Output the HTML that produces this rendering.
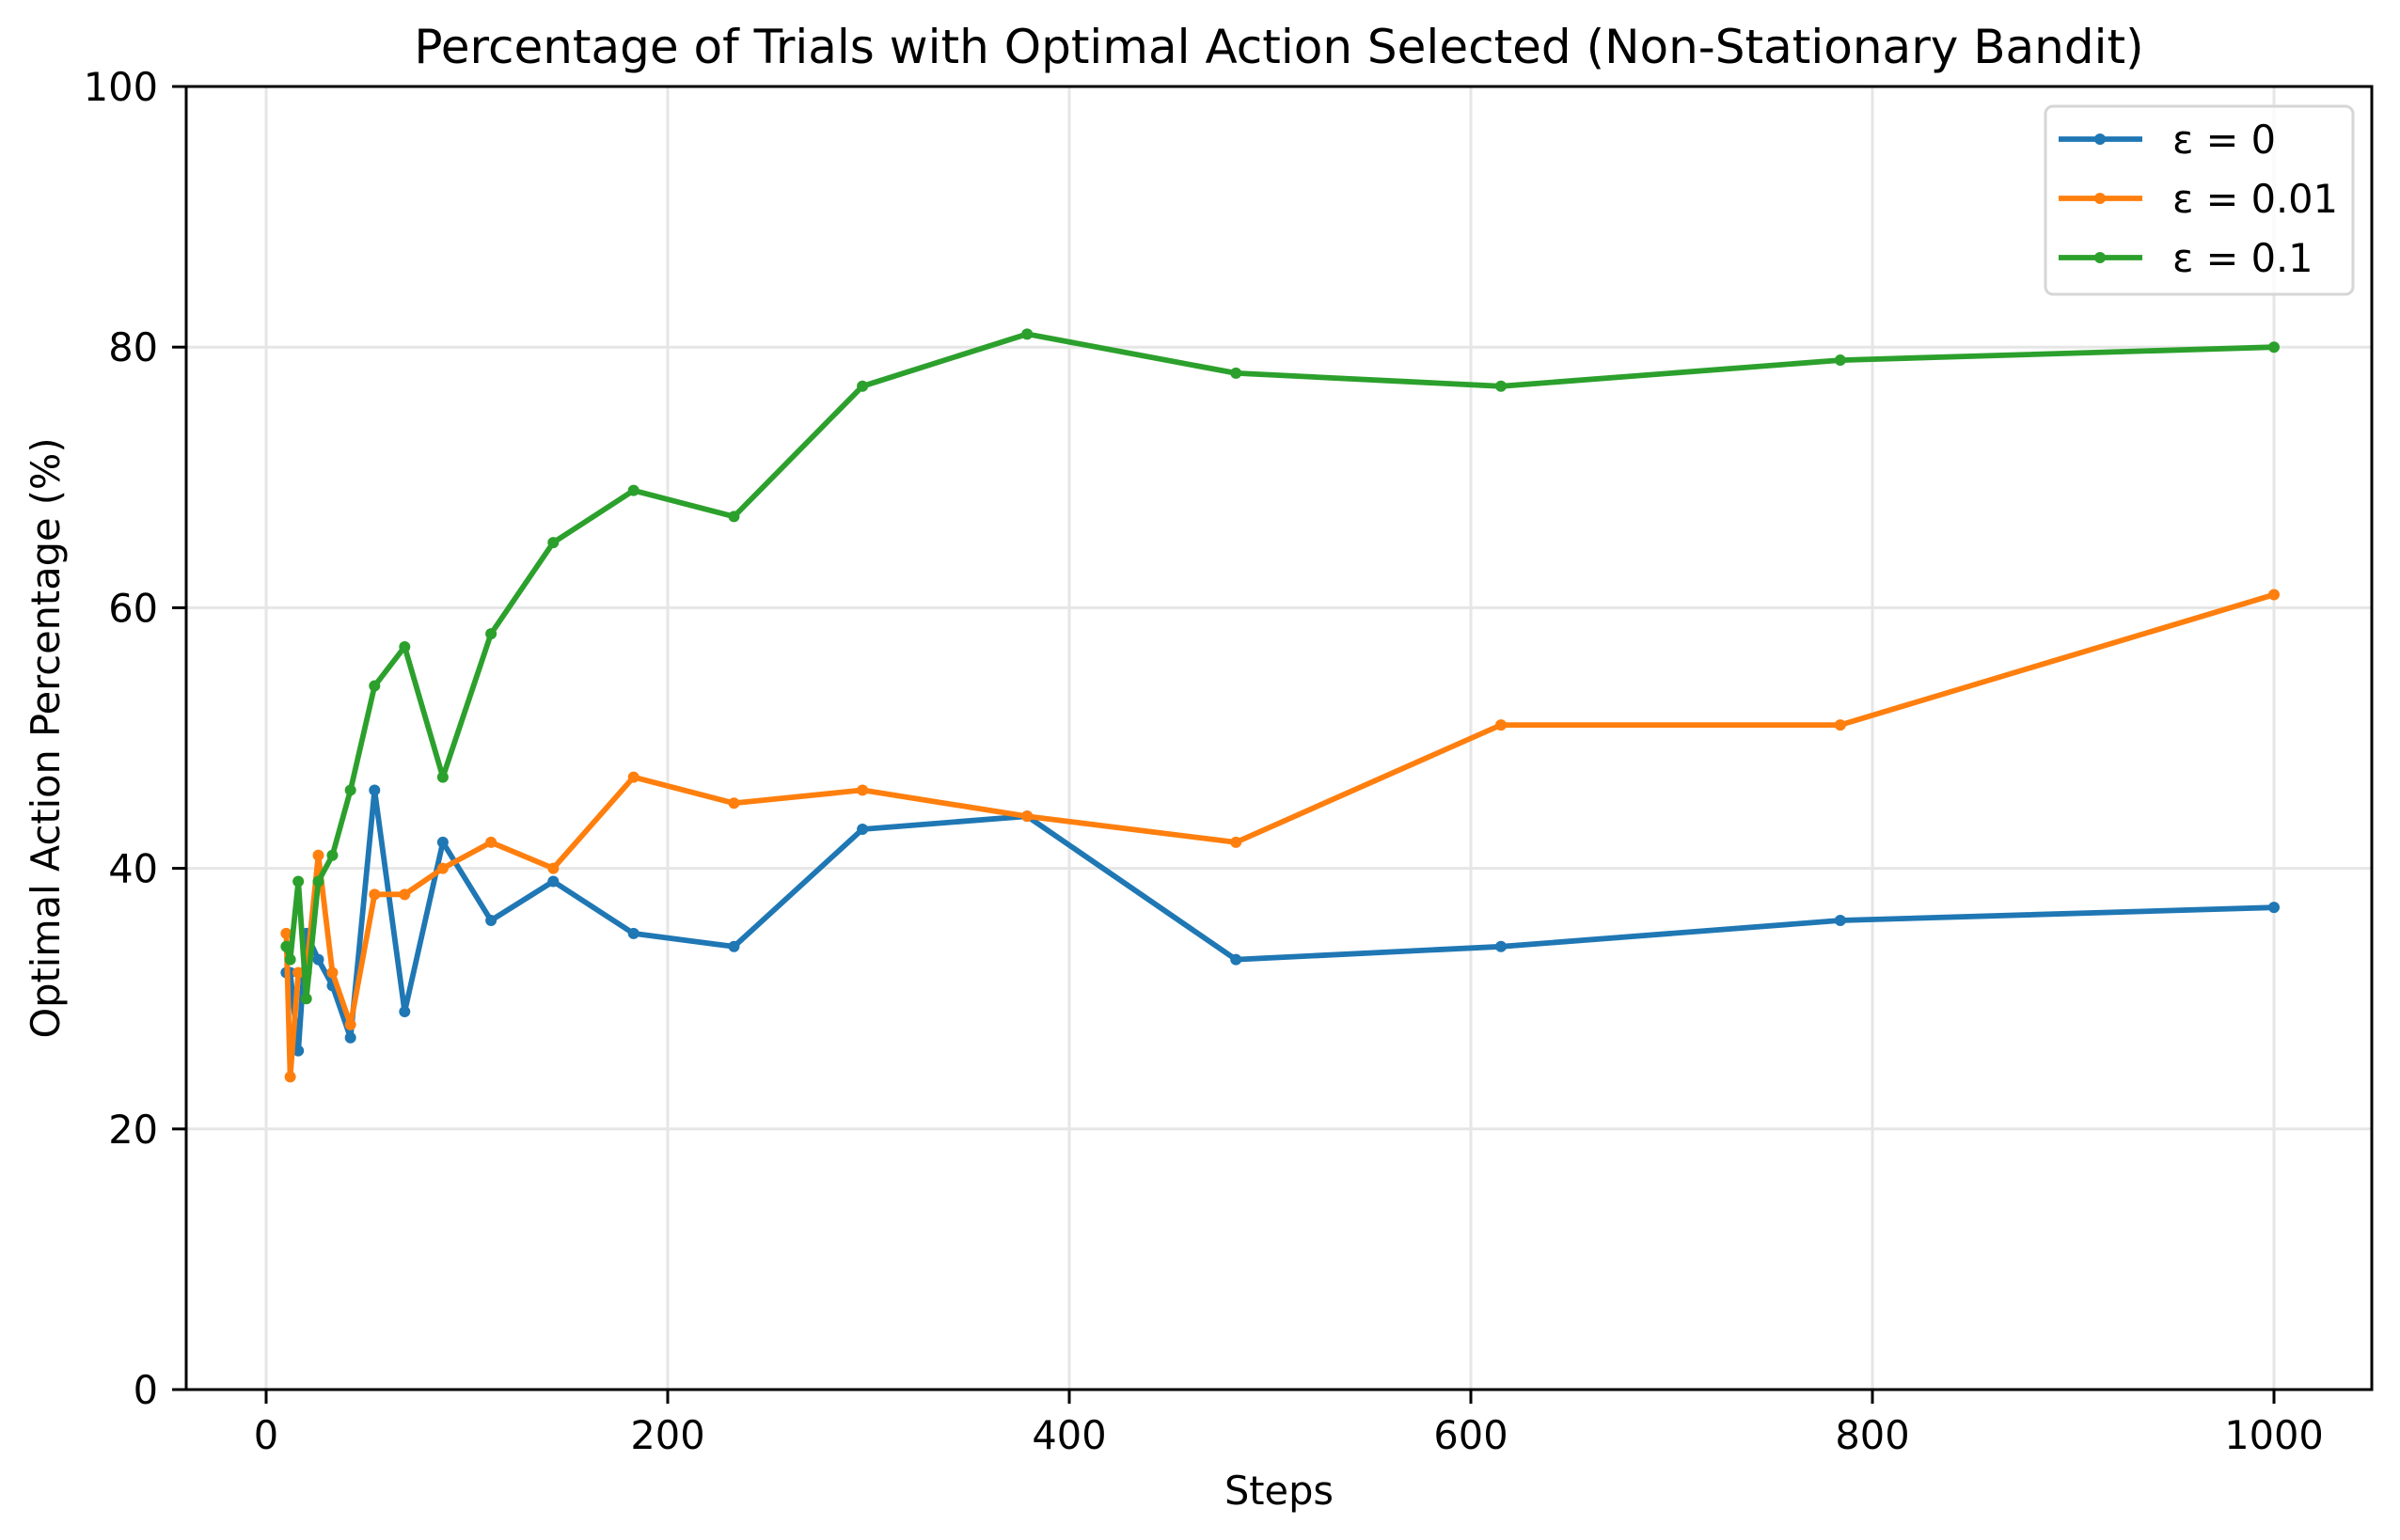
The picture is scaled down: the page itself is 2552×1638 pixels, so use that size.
<!DOCTYPE html>
<html><head><meta charset="utf-8"><style>
html,body{margin:0;padding:0;background:#fff;}
svg{display:block;font-family:"DejaVu Sans","Liberation Sans",sans-serif;}
</style></head><body>
<svg id="chart" width="2552" height="1638" viewBox="0 0 2552 1638" xmlns="http://www.w3.org/2000/svg">
<rect width="2552" height="1638" fill="#fff"/>
<g id="grid"></g>
<g id="series"></g>
<rect x="198" y="92" width="2324" height="1386" fill="none" stroke="#000" stroke-width="3"/>
<g id="ticks"></g>
<text x="1360" y="67" font-size="50" text-anchor="middle">Percentage of Trials with Optimal Action Selected (Non-Stationary Bandit)</text>
<text x="1360" y="1600" font-size="41.5" text-anchor="middle">Steps</text>
<text x="0" y="0" font-size="41.5" text-anchor="middle" transform="translate(63,785) rotate(-90)">Optimal Action Percentage (%)</text>
<g id="legend">
<rect x="2175" y="113" width="327" height="200" rx="8" fill="#fff" fill-opacity="0.8" stroke="#d6d6d6" stroke-width="3"/>
</g>
</svg>
<script>
const steps = [10,12,16,20,26,33,42,54,69,88,112,143,183,233,297,379,483,615,784,1000];
const eps0 = [32,32,26,35,33,31,27,46,29,42,36,39,35,34,43,44,33,34,36,37];
const eps001 = [35,24,32,32,41,32,28,38,38,40,42,40,47,45,46,44,42,51,51,61];
const eps01 = [34,33,39,30,39,41,46,54,57,47,58,65,69,67,77,81,78,77,79,80];
const seriesLabels = ["ε = 0","ε = 0.01","ε = 0.1"];
const xTicks = [0,200,400,600,800,1000];
const yTicks = [0,20,40,60,80,100];

const NS = "http://www.w3.org/2000/svg";
const xs = v => 283 + v * 2.135;
const ys = v => 1478 - v * 13.86;
function mk(tag, attrs, parent){const e=document.createElementNS(NS,tag);for(const k in attrs)e.setAttribute(k,attrs[k]);parent.appendChild(e);return e;}
const grid=document.getElementById('grid'), ticks=document.getElementById('ticks'), ser=document.getElementById('series'), leg=document.getElementById('legend');
xTicks.forEach(t=>{
  const g=mk('line',{x1:xs(t),x2:xs(t),y1:92,y2:1478,stroke:'#e6e6e6','stroke-width':3},grid);
  
  
  const tk=mk('line',{x1:xs(t),x2:xs(t),y1:1478,y2:1493,stroke:'#000','stroke-width':3},ticks);
  
  
  const tx=mk('text',{x:xs(t),y:1541,'font-size':41.5,'text-anchor':'middle'},ticks);
  tx.textContent=t;
  
  
});
yTicks.forEach(t=>{
  const g=mk('line',{x1:198,x2:2522,y1:ys(t),y2:ys(t),stroke:'#e6e6e6','stroke-width':3},grid);
  
  
  const tk=mk('line',{x1:183,x2:198,y1:ys(t),y2:ys(t),stroke:'#000','stroke-width':3},ticks);
  
  
  const tx=mk('text',{x:168,y:ys(t)+15,'font-size':41.5,'text-anchor':'end'},ticks);
  tx.textContent=t;
  
  
});
const colors=['#1f77b4','#ff7f0e','#2ca02c'];
[eps0,eps001,eps01].forEach((vals,i)=>{
  const pts=steps.map((s,j)=>xs(s).toFixed(1)+','+ys(vals[j]).toFixed(1)).join(' ');
  const pl=mk('polyline',{points:pts,fill:'none',stroke:colors[i],'stroke-width':5.8,'stroke-linejoin':'round','stroke-linecap':'square'},ser);
  
  
  steps.forEach((s,j)=>{
    const c=mk('circle',{cx:xs(s),cy:ys(vals[j]),r:6,fill:colors[i]},ser);
    
    
  });
  const y=148+i*63;
  const ll=mk('line',{x1:2189,x2:2278,y1:y,y2:y,stroke:colors[i],'stroke-width':5.8},leg);
  
  
  const lc=mk('circle',{cx:2233,cy:y,r:6,fill:colors[i]},leg);
  
  
  const lt=mk('text',{x:2310,y:y+15,'font-size':41.5},leg);
  lt.textContent=seriesLabels[i];
  
  
});
</script>
</body></html>
